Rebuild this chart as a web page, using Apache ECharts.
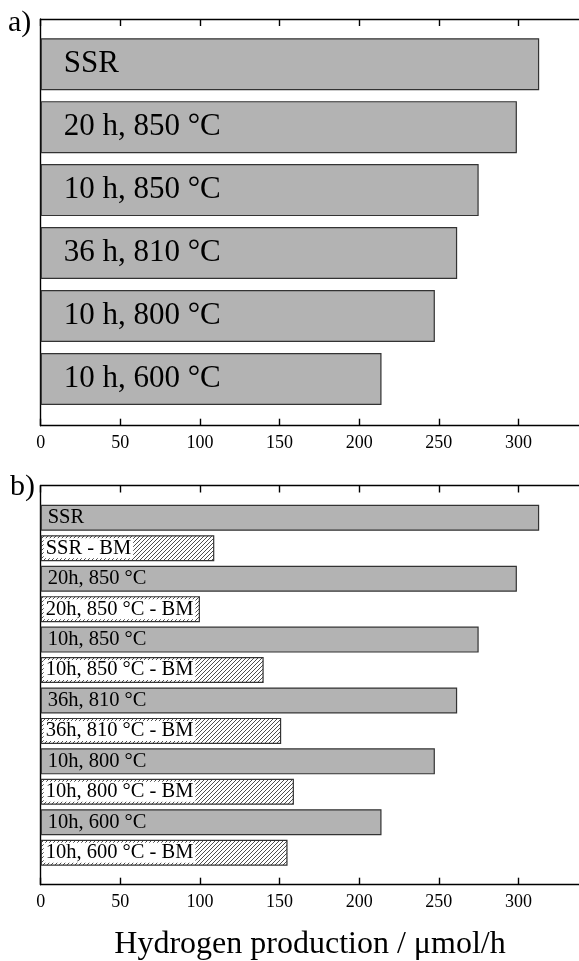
<!DOCTYPE html>
<html>
<head>
<meta charset="utf-8">
<script src="https://cdn.jsdelivr.net/npm/echarts@6/dist/echarts.min.js"></script>
<style>
html,body{margin:0;padding:0;background:#fff;}
#chart{width:579px;height:961px;}
</style>
</head>
<body>
<div id="chart"></div>
<script>
// ---- data ----
const categoriesA = ['SSR', '20 h, 850 °C', '10 h, 850 °C', '36 h, 810 °C', '10 h, 800 °C', '10 h, 600 °C'];
const valuesA = [313, 299, 275, 261.5, 247.5, 214];
const samplesB = ['SSR', '20h, 850 °C', '10h, 850 °C', '36h, 810 °C', '10h, 800 °C', '10h, 600 °C'];
const valuesB = [313, 299, 275, 261.5, 247.5, 214];
const valuesBM = [109, 100, 140, 151, 159, 155];
const bmSuffix = ' - BM';
const xTicks = [0, 50, 100, 150, 200, 250, 300];
const xMin = 0;
const xMax = 338;
const axisTitle = 'Hydrogen production / μmol/h';

// ---- styling ----
const FONT = '"Liberation Serif", "Times New Roman", serif';
const GRAY = '#b3b3b3';
const EDGE = '#333333';

function hatchCanvas() {
  const c = document.createElement('canvas');
  const s = 4;
  c.width = s; c.height = s;
  const g = c.getContext('2d');
  g.fillStyle = '#ffffff';
  g.fillRect(0, 0, s, s);
  g.strokeStyle = '#3a3a3a';
  g.lineWidth = 0.9;
  g.beginPath();
  g.moveTo(0, s); g.lineTo(s, 0);
  g.moveTo(-1, 1); g.lineTo(1, -1);
  g.moveTo(s - 1, s + 1); g.lineTo(s + 1, s - 1);
  g.stroke();
  return c;
}
const hatch = { image: hatchCanvas(), repeat: 'repeat' };

// build panel b categories & items
const categoriesB = [];
const dataB = [];
samplesB.forEach((name, i) => {
  categoriesB.push(name);
  dataB.push({
    value: valuesB[i],
    itemStyle: { color: GRAY },
    label: { distance: 7, backgroundColor: 'transparent', padding: 0 }
  });
  categoriesB.push(name + bmSuffix);
  dataB.push({
    value: valuesBM[i],
    itemStyle: { color: hatch },
    label: { distance: 3, backgroundColor: '#ffffff', padding: [0, 2, 0, 2], lineHeight: 20 }
  });
});

const left = 40.7;
const frameA = { top: 19, height: 406.7 };
const barsA = { top: 32.7, height: 377.7 };
const frameB = { top: 485.5, height: 399.2 };
const barsB = { top: 502.6, height: 365.3 };

function frameX(gridIndex, position, showLabel) {
  return {
    type: 'value', gridIndex, position, min: xMin, max: xMax,
    axisLine: { show: true, onZero: false, lineStyle: { color: '#000', width: 1.4 } },
    axisTick: { show: true, inside: true, length: 7, customValues: xTicks, lineStyle: { color: '#000', width: 1.4 } },
    axisLabel: showLabel ? { show: true, customValues: xTicks, margin: 9, color: '#000', fontSize: 18, fontFamily: FONT } : { show: false },
    splitLine: { show: false }
  };
}
function hiddenX(gridIndex) {
  return { type: 'value', gridIndex, min: xMin, max: xMax, show: false, splitLine: { show: false } };
}
function frameY(gridIndex) {
  return {
    type: 'value', gridIndex, min: 0, max: 1, position: 'left',
    axisLine: { show: true, lineStyle: { color: '#000', width: 1.4 } },
    axisTick: { show: false }, axisLabel: { show: false }, splitLine: { show: false }
  };
}
function catY(gridIndex, data) {
  return { type: 'category', gridIndex, data, inverse: true, show: false };
}

const chart = echarts.init(document.getElementById('chart'), null, { renderer: 'canvas' });
chart.setOption({
  animation: false,
  backgroundColor: '#ffffff',
  grid: [
    { left, right: 0, top: frameA.top, height: frameA.height },
    { left, right: 0, top: barsA.top, height: barsA.height },
    { left, right: 0, top: frameB.top, height: frameB.height },
    { left, right: 0, top: barsB.top, height: barsB.height }
  ],
  xAxis: [
    frameX(0, 'bottom', true),
    frameX(0, 'top', false),
    hiddenX(1),
    frameX(2, 'bottom', true),
    frameX(2, 'top', false),
    hiddenX(3)
  ],
  yAxis: [
    frameY(0),
    catY(1, categoriesA),
    frameY(2),
    catY(3, categoriesB)
  ],
  series: [
    {
      type: 'bar', xAxisIndex: 2, yAxisIndex: 1,
      data: valuesA, barWidth: 52,
      itemStyle: { color: GRAY, borderColor: EDGE, borderWidth: 1.2 },
      label: {
        show: true, position: 'insideLeft', distance: 23, formatter: '{b}',
        color: '#000', fontSize: 31, fontFamily: FONT
      },
      silent: true
    },
    {
      type: 'bar', xAxisIndex: 5, yAxisIndex: 3,
      data: dataB, barWidth: 26,
      itemStyle: { borderColor: EDGE, borderWidth: 1.2 },
      label: {
        show: true, position: 'insideLeft', formatter: '{b}',
        color: '#000', fontSize: 20.5, fontFamily: FONT
      },
      silent: true
    }
  ],
  graphic: [
    { type: 'text', x: 8, y: 23, style: { text: 'a)', fontSize: 30, fontFamily: FONT, fill: '#000', verticalAlign: 'middle' } },
    { type: 'text', x: 10, y: 487, style: { text: 'b)', fontSize: 30, fontFamily: FONT, fill: '#000', verticalAlign: 'middle' } },
    { type: 'text', x: 310, y: 945, style: { text: axisTitle, fontSize: 32, fontFamily: FONT, fill: '#000', align: 'center', verticalAlign: 'middle' } }
  ]
});
</script>
</body>
</html>
